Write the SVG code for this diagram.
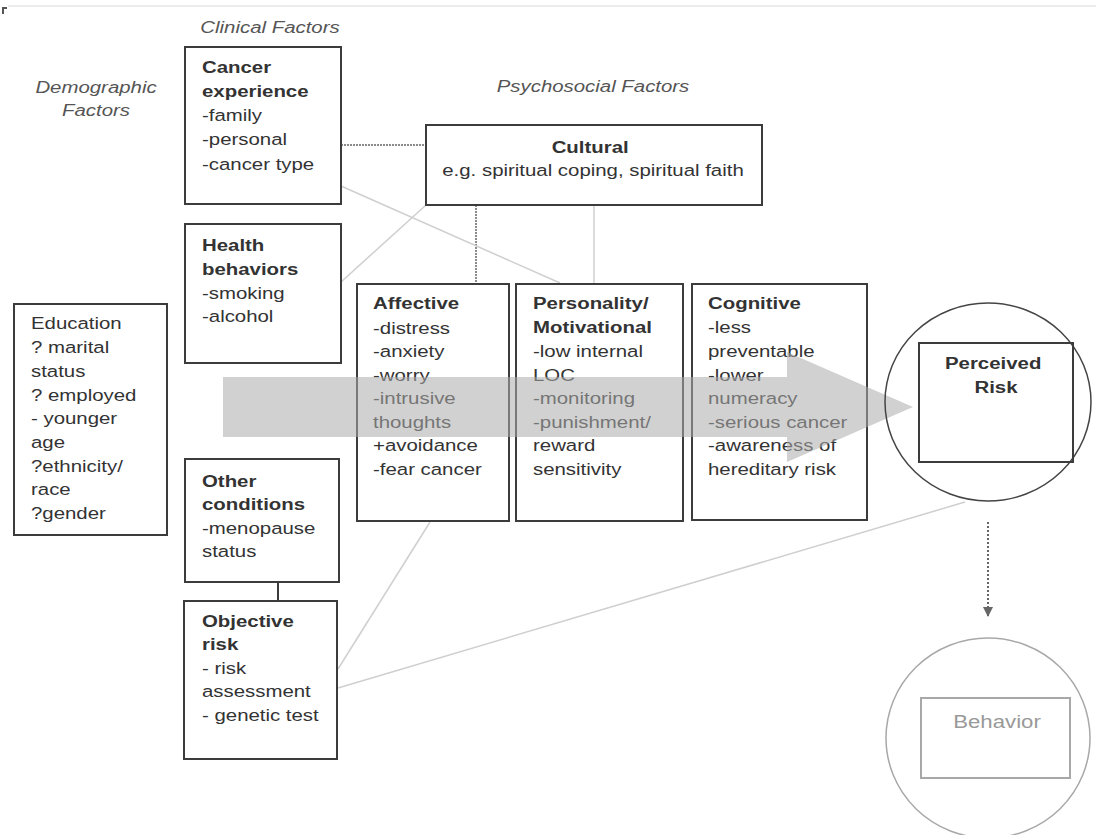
<svg xmlns="http://www.w3.org/2000/svg" width="1096" height="835" viewBox="0 0 1096 835">
  <style>
    .t { font-family: "Liberation Sans", Arial, sans-serif; font-size: 17px; fill: #333; }
    .b { font-weight: bold; }
    .hd { font-family: "Liberation Sans", Arial, sans-serif; font-size: 17px; font-style: italic; fill: #555; }
    .box { fill: none; stroke: #3c3c3c; stroke-width: 2; }
    .ring { fill: none; stroke: #444; stroke-width: 1.5; }
    .faint { stroke: #cfcfcf; stroke-width: 1.5; fill: none; }
    .dots { stroke: #666; stroke-width: 1.5; stroke-dasharray: 2 1; fill: none; }
    .pale { fill: none; stroke: #a8a8a8; stroke-width: 2; }
  </style>
  <defs>
    <marker id="tri" viewBox="0 0 10 10" refX="10" refY="5" markerWidth="10" markerHeight="10" markerUnits="userSpaceOnUse" orient="auto">
      <path d="M0,0 L10,5 L0,10 Z" fill="#666"/>
    </marker>
  </defs>

  <rect width="1096" height="835" fill="#fff"/>
  <!-- page edge -->
  <line x1="8" y1="6" x2="1096" y2="6" stroke="#ececec" stroke-width="2"/>
  <path d="M3,14 V8 H7" stroke="#555" stroke-width="2" fill="none"/>

  <!-- section headings -->
  <g id="headings">
    <g transform="translate(270,0) scale(1.2,1)"><text class="hd" x="0" y="33" text-anchor="middle">Clinical Factors</text></g>
    <g transform="translate(96,0) scale(1.2,1)"><text class="hd" text-anchor="middle"><tspan x="0" y="93">Demographic</tspan><tspan x="0" y="116">Factors</tspan></text></g>
    <g transform="translate(593,0) scale(1.2,1)"><text class="hd" x="0" y="92" text-anchor="middle">Psychosocial Factors</text></g>
  </g>

  <!-- connectors -->
  <g id="connectors">
    <line class="dots" x1="341" y1="145" x2="426" y2="145"/>
    <line class="dots" x1="476" y1="205" x2="476" y2="284"/>
    <line class="faint" x1="594" y1="205" x2="594" y2="284"/>
    <line class="faint" x1="341" y1="186" x2="560" y2="283"/>
    <line class="faint" x1="341" y1="282" x2="426" y2="205"/>
    <line class="faint" x1="338" y1="669" x2="430" y2="522"/>
    <line class="faint" x1="338" y1="688" x2="965" y2="502"/>
    <line x1="988" y1="522" x2="988" y2="617" stroke="#666" stroke-width="2" stroke-dasharray="2 2" marker-end="url(#tri)"/>
  </g>

  <g id="cancer-experience">
    <rect class="box" x="185" y="47" width="156" height="157"/>
    <g transform="translate(202,0) scale(1.2,1)"><text class="t">
      <tspan class="b" x="0" y="73">Cancer</tspan>
      <tspan class="b" x="0" y="97">experience</tspan>
      <tspan x="0" y="121">-family</tspan>
      <tspan x="0" y="145">-personal</tspan>
      <tspan x="0" y="170">-cancer type</tspan>
    </text></g>
  </g>

  <g id="health-behaviors">
    <rect class="box" x="185" y="224" width="156" height="139"/>
    <g transform="translate(202,0) scale(1.2,1)"><text class="t">
      <tspan class="b" x="0" y="251">Health</tspan>
      <tspan class="b" x="0" y="275">behaviors</tspan>
      <tspan x="0" y="299">-smoking</tspan>
      <tspan x="0" y="322">-alcohol</tspan>
    </text></g>
  </g>

  <g id="demographics">
    <rect class="box" x="14" y="304" width="153" height="231"/>
    <g transform="translate(31,0) scale(1.2,1)"><text class="t">
      <tspan x="0" y="329">Education</tspan>
      <tspan x="0" y="353">? marital</tspan>
      <tspan x="0" y="377">status</tspan>
      <tspan x="0" y="401">? employed</tspan>
      <tspan x="0" y="424">- younger</tspan>
      <tspan x="0" y="448">age</tspan>
      <tspan x="0" y="472">?ethnicity/</tspan>
      <tspan x="0" y="495">race</tspan>
      <tspan x="0" y="519">?gender</tspan>
    </text></g>
  </g>

  <g id="other-conditions">
    <rect class="box" x="185" y="459" width="154" height="123"/>
    <g transform="translate(202,0) scale(1.2,1)"><text class="t">
      <tspan class="b" x="0" y="487">Other</tspan>
      <tspan class="b" x="0" y="510">conditions</tspan>
      <tspan x="0" y="534">-menopause</tspan>
      <tspan x="0" y="557">status</tspan>
    </text></g>
  </g>

  <line id="link-other-objective" x1="278" y1="582" x2="278" y2="601" stroke="#3c3c3c" stroke-width="2"/>

  <g id="objective-risk">
    <rect class="box" x="184" y="601" width="153" height="158"/>
    <g transform="translate(202,0) scale(1.2,1)"><text class="t">
      <tspan class="b" x="0" y="627">Objective</tspan>
      <tspan class="b" x="0" y="650">risk</tspan>
      <tspan x="0" y="674"> - risk</tspan>
      <tspan x="0" y="697">assessment</tspan>
      <tspan x="0" y="721">- genetic test</tspan>
    </text></g>
  </g>

  <g id="cultural">
    <rect class="box" x="426" y="125" width="336" height="80"/>
    <g transform="translate(593,0) scale(1.2,1)"><text class="t" text-anchor="middle">
      <tspan class="b" x="0" y="153">Cultural</tspan>
      <tspan x="0" y="176">e.g. spiritual coping, spiritual faith</tspan>
    </text></g>
  </g>

  <g id="affective">
    <rect class="box" x="357" y="284" width="152" height="237"/>
    <g transform="translate(373,0) scale(1.2,1)"><text class="t">
      <tspan class="b" x="0" y="309">Affective</tspan>
      <tspan x="0" y="334">-distress</tspan>
      <tspan x="0" y="357">-anxiety</tspan>
      <tspan x="0" y="381">-worry</tspan>
      <tspan x="0" y="404">-intrusive</tspan>
      <tspan x="0" y="428">thoughts</tspan>
      <tspan x="0" y="451">+avoidance</tspan>
      <tspan x="0" y="475">-fear cancer</tspan>
    </text></g>
  </g>

  <g id="personality">
    <rect class="box" x="516" y="284" width="167" height="237"/>
    <g transform="translate(533,0) scale(1.2,1)"><text class="t">
      <tspan class="b" x="0" y="309">Personality/</tspan>
      <tspan class="b" x="0" y="333">Motivational</tspan>
      <tspan x="0" y="357">-low internal</tspan>
      <tspan x="0" y="381">LOC</tspan>
      <tspan x="0" y="404">-monitoring</tspan>
      <tspan x="0" y="428">-punishment/</tspan>
      <tspan x="0" y="451">reward</tspan>
      <tspan x="0" y="475">sensitivity</tspan>
    </text></g>
  </g>

  <g id="cognitive">
    <rect class="box" x="692" y="284" width="175" height="236"/>
    <g transform="translate(708,0) scale(1.2,1)"><text class="t">
      <tspan class="b" x="0" y="309">Cognitive</tspan>
      <tspan x="0" y="333">-less</tspan>
      <tspan x="0" y="357">preventable</tspan>
      <tspan x="0" y="381">-lower</tspan>
      <tspan x="0" y="404">numeracy</tspan>
      <tspan x="0" y="428">-serious cancer</tspan>
      <tspan x="0" y="451">-awareness of</tspan>
      <tspan x="0" y="475">hereditary risk</tspan>
    </text></g>
  </g>

  <!-- broad translucent arrow running through the factor boxes -->
  <path id="flow-arrow" d="M223,377 H787 V352 L913,407 L787,462 V437 H223 Z" fill="#acacac" fill-opacity="0.55"/>

  <g id="perceived-risk">
    <ellipse class="ring" cx="988" cy="402" rx="103" ry="99"/>
    <rect class="box" x="919" y="343" width="154" height="119"/>
    <g transform="translate(996,0) scale(1.2,1)"><text class="t b" text-anchor="middle">
      <tspan x="0" y="369">Perceived</tspan>
      <tspan x="0" y="393">Risk</tspan>
    </text></g>
  </g>

  <g id="behavior">
    <ellipse fill="none" stroke="#a8a8a8" stroke-width="1.5" cx="988" cy="738" rx="102" ry="100"/>
    <rect class="pale" x="921" y="698" width="149" height="80"/>
    <g transform="translate(997,0) scale(1.2,1)"><text class="t" x="0" y="728" text-anchor="middle" style="fill:#999;font-size:18.5px">Behavior</text></g>
  </g>
</svg>
